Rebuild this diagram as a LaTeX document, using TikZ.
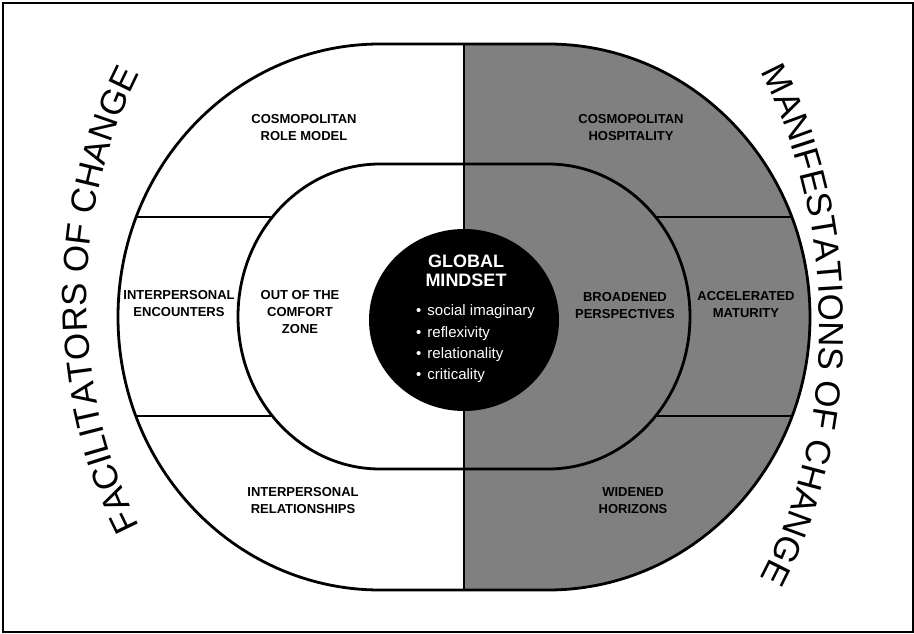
\documentclass[tikz,border=0pt]{standalone}
\usepackage{fontspec}
\setmainfont{Liberation Sans}
\usetikzlibrary{decorations.text}
\colorlet{manifest}{black!50}
\tikzset{
  ring/.style={line width=2.8pt},
  field/.style={font=\bfseries\fontsize{13}{17}\selectfont, align=center, inner sep=0pt},
  bigarc/.style={decorate, decoration={text along path, text align=center,
    text={|\fontsize{35}{35}\selectfont|#1}}},
}
% the two rounded bands share the same straight part from x=380 to x=548
\newcommand{\outershape}{(380,44) arc[start angle=270, end angle=90, x radius=262, y radius=273]
  -- (548,590) arc[start angle=90, end angle=-90, x radius=262, y radius=273] -- cycle}
\newcommand{\innershape}{(380,164) arc[start angle=270, end angle=90, x radius=142, y radius=152.5]
  -- (548,469) arc[start angle=90, end angle=-90, x radius=142, y radius=152.5] -- cycle}
\begin{document}
\begin{tikzpicture}[x=1pt,y=-1pt]
\useasboundingbox (0,0) rectangle (914,634);
\draw[line width=1.2pt] (3,3) rectangle (913,632);
% right half in grey
\begin{scope}
\clip (464,0) rectangle (914,634);
\fill[manifest] \outershape;
\end{scope}
% dividers of the outer band
\begin{scope}
\clip \outershape;
\draw[ring] (100,217) -- (830,217);
\draw[ring] (100,416) -- (830,416);
\end{scope}
\begin{scope}
\clip (0,0) rectangle (464,634);
\fill[white] \innershape;
\end{scope}
\begin{scope}
\clip (464,0) rectangle (914,634);
\fill[manifest] \innershape;
\end{scope}
\draw[ring] \outershape;
\draw[ring] \innershape;
\coordinate (top) at (464,44);
\coordinate (bottom) at (464,590);
\draw[ring] (top) -- (bottom);
\fill (464,320) ellipse [x radius=95, y radius=91];
% core
\node[font=\bfseries\fontsize{18}{18.5}\selectfont, text=white, align=center, inner sep=0pt] (mindset) at (466,271) {GLOBAL\\MINDSET};
\node[font=\fontsize{15}{21.3}\selectfont, text=white, align=left, anchor=west, inner sep=0pt] (traits) at (416,344)
  {\textbullet\hspace{6pt}social imaginary\\\textbullet\hspace{6pt}reflexivity\\\textbullet\hspace{6pt}relationality\\\textbullet\hspace{6pt}criticality};
% fields
\node[field] (rolemodel) at (304,127.5) {COSMOPOLITAN\\ROLE MODEL};
\node[field] (hospitality) at (631,128) {COSMOPOLITAN\\HOSPITALITY};
\node[field] (encounters) at (179,304) {INTERPERSONAL\\ENCOUNTERS};
\node[field] (comfort) at (300,312) {OUT OF THE\\COMFORT\\ZONE};
\node[field] (broadened) at (625,305.5) {BROADENED\\PERSPECTIVES};
\node[field] (maturity) at (746,304.5) {ACCELERATED\\MATURITY};
\node[field] (relationships) at (303,501) {INTERPERSONAL\\RELATIONSHIPS};
\node[field] (horizons) at (633,501) {WIDENED\\HORIZONS};
% curved titles
\path[bigarc={FACILITATORS OF CHANGE}] (233.5,642.1) arc[start angle=120, end angle=240, x radius=293, y radius=395];
\path[bigarc={MANIFESTATIONS OF CHANGE}] (683.75,-25.7) arc[start angle=-60, end angle=60, x radius=271.5, y radius=405];
\end{tikzpicture}
\end{document}
